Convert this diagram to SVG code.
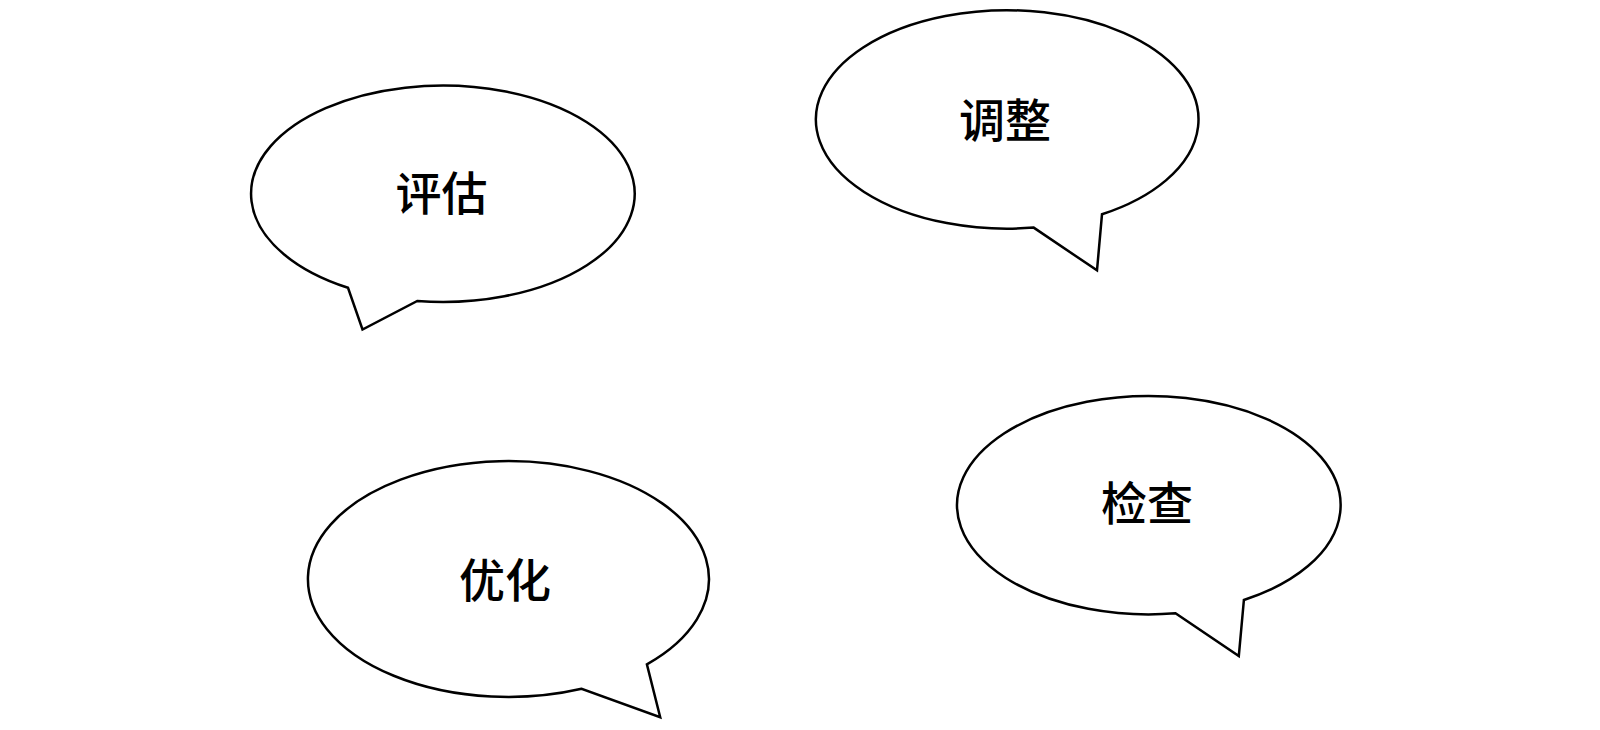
<svg xmlns="http://www.w3.org/2000/svg" width="1600" height="730" viewBox="0 0 1600 730">
<style>
.b{fill:#fff;stroke:#000;stroke-width:2.5;stroke-linejoin:miter}
.t{font-family:"Noto Sans CJK SC","Noto Sans",sans-serif;font-size:46px;font-weight:500;fill:#000;text-anchor:middle;dominant-baseline:central}
</style>
<rect width="1600" height="730" fill="#fff"/>
<g id="connectors"/>
<g id="n1">
<path class="b" d="M 348 287.8 A 191.8 108.2 0 1 1 417.3 301 L 362.5 329.5 Z"/>
<text class="t" x="441.5" y="190">评估</text>
</g>
<g id="n2">
<path class="b" d="M 1033.7 227.6 A 191.3 109.2 0 1 1 1102 214.3 L 1097 270.4 Z"/>
<text class="t" x="1005" y="117">调整</text>
</g>
<g id="n3">
<path class="b" d="M 581.6 688.8 A 200.5 117.9 0 1 1 646.9 664.3 L 660.2 717.3 Z"/>
<text class="t" x="505" y="577">优化</text>
</g>
<g id="n4">
<path class="b" d="M 1175.5 613.3 A 191.8 109.2 0 1 1 1243.9 600 L 1238.8 656.1 Z"/>
<text class="t" x="1147" y="500">检查</text>
</g>
</svg>
